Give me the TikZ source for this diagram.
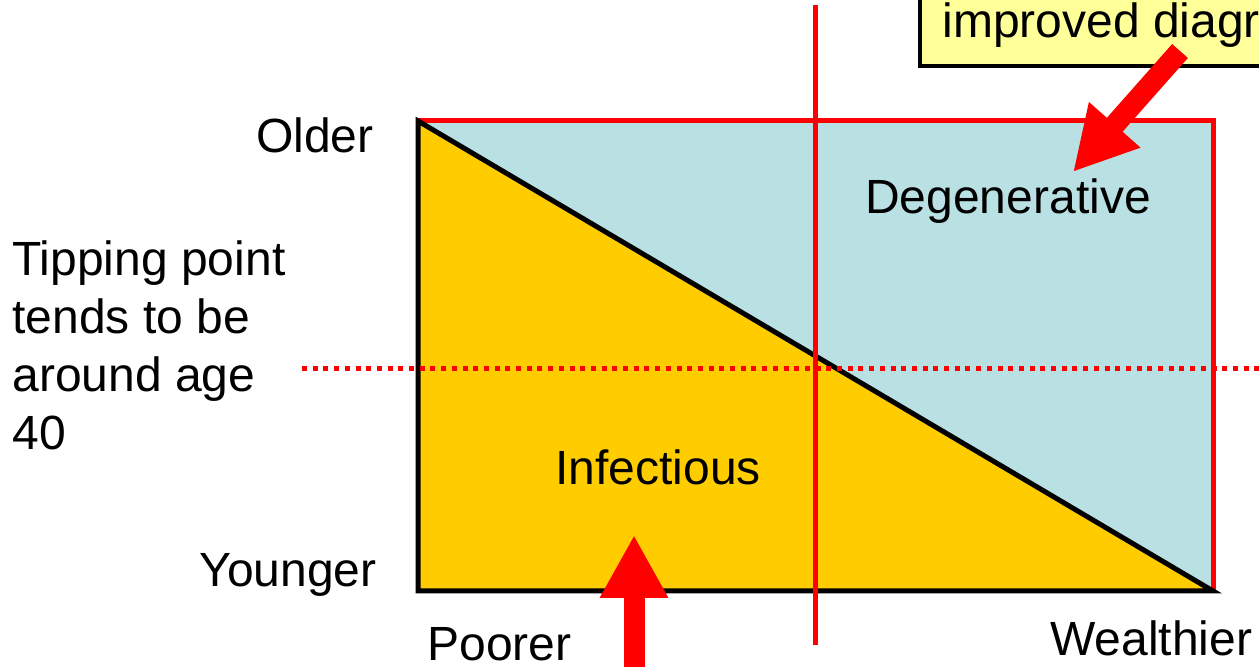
\documentclass[tikz,border=0pt]{standalone}
\usepackage{fontspec}
\setmainfont{Liberation Sans}
\usetikzlibrary{arrows.meta}
\definecolor{infYellow}{HTML}{FFCC00}
\definecolor{degBlue}{HTML}{B9E0E3}
\definecolor{noteYellow}{HTML}{FFFF99}
\tikzset{
  lbl/.style={font=\fontsize{24}{29}\selectfont, inner sep=0pt},
  bigarrow/.style={red, line width=10.5pt, -{Triangle[length=31.5pt,width=32pt]}},
  edge/.style={line width=2.5pt}
}
\begin{document}
\begin{tikzpicture}[x=0.5pt, y=-0.5pt]
\useasboundingbox (0,0) rectangle (1259,667);
% corners of the chart
\coordinate (tl) at (418,121);
\coordinate (tr) at (1213,121);
\coordinate (bl) at (418,591);
\coordinate (br) at (1213,591);
% regions
\fill[degBlue] (tl) rectangle (br);
\draw[edge, red] (tl) -- (tr) -- (br);
\fill[infYellow] (tl) -- (bl) -- (br) -- cycle;
\draw[edge, black] (tl) -- (bl) -- (br) -- cycle;
% tipping lines
\coordinate (vtop) at (815,5);
\coordinate (vbot) at (815,645);
\draw[edge, red] (vtop) -- (vbot);
\coordinate (hleft) at (302,368.5);
\coordinate (hright) at (1262,368.5);
\draw[edge, red, dash pattern=on 2.5pt off 2.85pt] (hleft) -- (hright);
% labels
\node[lbl, anchor=base east] (older) at (374,153) {Older};
\node[lbl, anchor=base east] (younger) at (377,587) {Younger};
\node[lbl, anchor=base west] (poorer) at (427,661) {Poorer};
\node[lbl, anchor=base west] (wealthier) at (1050,656) {Wealthier};
\node[lbl, anchor=base] (degen) at (1008,214) {Degenerative};
\node[lbl, anchor=base] (infect) at (658,485) {Infectious};
\node[lbl, anchor=base west, align=left] (tipping) at (12,450) {Tipping point\\tends to be\\around age\\40};
% note box
\filldraw[noteYellow, draw=black, line width=2pt] (920,-10) rectangle (1275,66);
\node[lbl, anchor=base west] (note) at (942,38) {improved diagr};
% arrows
\coordinate (noteTail) at (1180,51);
\coordinate (degTip) at (1073,172);
\draw[bigarrow] (noteTail) -- (degTip);
\coordinate (infTail) at (634,690);
\coordinate (infTip) at (634,535);
\draw[bigarrow] (infTail) -- (infTip);
\end{tikzpicture}
\end{document}
